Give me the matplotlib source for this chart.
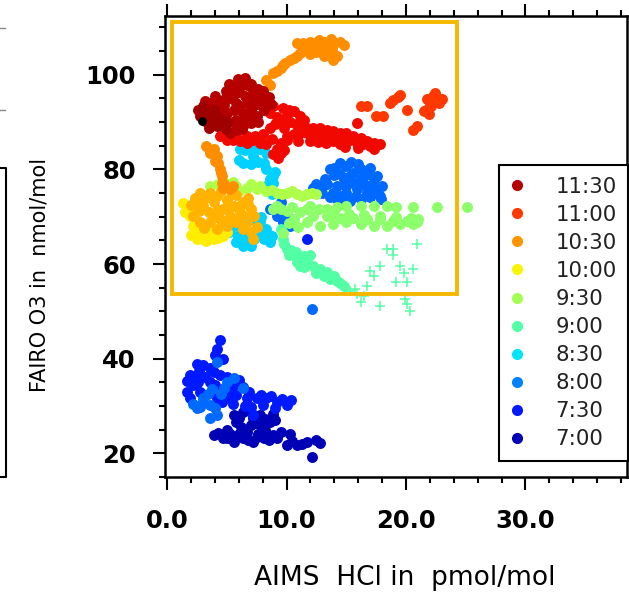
"""
AIMS HCl vs FAIRO O3 scatter, coloured by flight time.
"""

import numpy as np
import matplotlib
matplotlib.use("Agg")
import matplotlib.pyplot as plt
from matplotlib.colors import Normalize
from matplotlib.lines import Line2D
from matplotlib.patches import Rectangle


# ==========================================================
# DATA  (HCl in pmol/mol, O3 in nmol/mol)
# ==========================================================

pts_1136 = [(2.6, 92.6), (2.8, 91.2), (3.0, 93.3), (3.3, 91.2), (3.6, 89.8), (3.6, 92.0),
            (4.2, 91.2), (4.5, 90.5), (4.2, 89.1), (4.9, 88.6), (5.0, 90.0), (3.9, 92.5),
            (3.2, 90.2), (3.9, 90.0), (2.9, 92.0), (3.5, 88.8), (4.7, 89.5)]

pts_1130 = [(3.6, 94.0), (4.2, 94.4), (4.7, 94.7), (5.3, 95.1), (5.8, 96.1), (5.6, 97.5),
            (6.1, 98.6), (6.7, 97.9), (7.2, 96.8), (7.8, 95.4), (8.3, 94.0), (8.1, 92.6),
            (7.5, 91.2), (7.0, 89.8), (6.4, 89.1), (5.8, 88.4), (5.3, 87.7), (4.4, 92.6),
            (5.0, 91.9), (5.6, 92.6), (6.1, 93.3), (6.7, 94.0), (7.2, 93.3), (5.8, 90.5),
            (6.4, 91.9), (6.5, 95.5), (7.0, 95.0), (6.0, 97.0), (5.8, 94.0), (7.5, 94.0),
            (4.8, 93.5), (6.2, 90.5), (6.8, 91.5), (5.5, 90.0), (6.3, 88.5), (3.2, 94.5),
            (4.0, 95.5), (4.9, 96.5), (5.2, 98.0), (5.9, 99.0), (6.5, 99.2), (7.0, 98.0),
            (7.6, 97.0), (8.0, 96.5), (8.5, 95.2), (8.7, 93.8), (7.9, 93.5), (7.0, 92.5),
            (6.6, 90.2), (7.6, 90.0), (5.0, 95.8), (4.3, 93.5), (3.4, 93.2)]

pts_1115 = [(8.9, 93.3), (9.7, 93.0), (10.6, 92.3), (11.1, 91.2), (11.4, 89.8), (11.7, 88.8),
            (12.2, 88.8), (12.8, 88.8), (13.4, 88.4), (13.9, 88.1), (14.5, 87.7), (15.0, 87.7),
            (15.6, 87.0), (16.2, 86.7), (16.7, 86.0), (17.3, 85.6), (17.0, 84.9), (16.4, 85.3),
            (15.9, 85.6), (15.0, 86.0), (14.5, 85.3), (13.9, 86.0), (13.4, 87.0), (12.8, 87.0),
            (12.2, 87.7), (11.7, 87.7), (11.1, 87.7), (10.6, 87.4), (10.0, 87.0), (9.5, 85.6),
            (9.2, 84.2), (8.9, 83.2), (9.5, 83.5), (10.0, 86.3), (7.8, 85.6), (7.2, 86.3),
            (6.7, 85.6), (6.1, 86.0), (5.5, 86.3), (5.0, 86.3), (4.4, 87.0), (8.3, 85.3),
            (15.9, 89.8), (8.6, 92.0), (9.2, 91.0), (10.0, 91.5), (10.3, 90.0), (8.0, 87.5),
            (8.6, 88.8), (9.0, 89.5), (4.8, 87.3), (5.8, 87.0), (6.7, 87.0), (7.4, 87.0),
            (8.8, 86.5), (9.8, 88.8), (9.7, 90.3), (10.8, 89.5), (11.0, 86.0), (12.0, 86.0),
            (12.6, 85.8), (13.3, 85.6), (14.2, 86.7), (15.3, 86.2), (16.0, 84.6), (17.3, 84.3),
            (17.8, 85.3), (9.8, 84.0), (9.3, 82.5), (10.2, 92.5), (11.5, 90.5), (12.4, 87.9),
            (14.9, 84.8)]

pts_1100 = [(16.2, 93.3), (16.7, 93.3), (17.5, 91.2), (18.1, 91.2), (18.7, 94.0), (18.9, 94.7),
            (19.5, 95.8), (20.1, 92.6), (20.9, 89.1), (20.6, 88.4), (21.7, 92.6), (22.0, 94.0),
            (22.3, 95.4), (22.6, 95.1), (22.8, 94.0), (22.1, 93.3), (21.5, 92.3), (19.3, 95.2),
            (22.5, 94.6), (21.8, 94.8), (22.4, 96.2), (21.9, 91.8), (23.0, 94.8)]

pts_1030 = [(8.3, 98.9), (8.6, 97.9), (8.9, 100.4), (9.5, 101.4), (9.9, 102.5), (10.3, 103.2),
            (10.9, 103.9), (11.1, 104.6), (11.7, 104.9), (12.2, 105.6), (12.8, 106.0), (13.4, 106.3),
            (13.6, 104.9), (13.1, 103.9), (13.9, 103.2), (12.5, 106.7), (11.4, 106.7), (10.9, 106.7),
            (12.0, 107.0), (13.1, 107.0), (14.5, 107.0), (14.0, 106.8), (3.3, 84.9), (3.9, 84.2),
            (3.6, 83.5), (4.2, 82.8), (4.3, 81.4), (4.4, 80.0), (4.6, 78.6), (4.6, 77.2),
            (4.7, 76.1), (5.3, 75.8), (9.2, 100.8), (9.7, 102.0), (10.6, 103.6), (11.4, 105.3),
            (12.0, 104.3), (12.5, 104.8), (13.0, 105.3), (13.8, 105.5), (14.2, 104.0), (11.7, 106.0),
            (12.7, 107.4), (13.7, 107.5), (14.8, 106.2), (3.5, 84.2), (4.0, 81.8), (4.5, 79.3),
            (4.8, 77.0), (5.5, 76.5)]

pts_1020 = [(2.8, 75.1), (3.6, 75.1), (2.5, 73.0), (3.0, 72.3), (3.9, 73.0), (4.7, 71.6),
            (5.6, 72.3), (6.4, 73.0), (7.0, 71.6), (6.1, 70.9), (5.3, 70.2), (4.4, 69.5),
            (3.6, 68.8), (2.8, 68.8), (2.2, 70.2), (6.7, 68.8), (7.0, 66.7), (7.2, 65.3),
            (5.8, 68.8), (5.0, 68.1), (4.2, 67.4), (3.2, 74.0), (4.2, 74.3), (5.0, 73.5),
            (5.8, 74.5), (6.8, 74.0), (3.5, 71.0), (4.3, 71.5), (5.2, 71.8), (6.1, 72.3),
            (6.5, 70.0), (2.7, 71.3), (3.9, 70.3), (6.4, 67.5), (2.0, 72.5), (2.3, 74.0),
            (4.5, 75.5), (5.4, 75.0), (6.8, 72.7), (7.3, 70.2), (6.0, 69.5), (4.7, 68.6),
            (3.1, 67.7), (7.5, 67.8)]

pts_1000 = [(1.65, 71.6), (1.9, 70.2), (2.2, 68.1), (2.8, 66.7), (3.0, 65.3), (3.9, 65.3),
            (4.7, 66.0), (2.5, 65.3), (3.6, 66.7), (5.0, 66.7), (1.5, 70.9), (2.4, 67.0),
            (1.8, 72.3), (1.3, 72.8), (2.2, 72.0), (3.3, 64.8), (4.3, 65.5), (2.0, 66.2)]

pts_0930 = [(5.0, 76.8), (5.8, 76.5), (6.7, 76.1), (7.5, 75.8), (8.3, 75.4), (9.2, 75.1),
            (10.0, 75.1), (10.9, 74.7), (11.7, 74.7), (12.5, 74.7), (7.8, 76.5), (7.0, 76.8),
            (6.0, 75.5), (3.6, 76.5), (8.8, 75.6), (9.6, 74.8), (10.5, 75.4), (11.3, 74.3),
            (12.1, 75.0), (5.5, 77.3), (4.3, 76.8)]

pts_0920 = [(15.0, 72.3), (16.2, 72.3), (17.3, 72.3), (18.4, 72.3), (19.2, 72.0), (20.6, 72.0),
            (22.6, 72.0), (25.1, 72.0), (8.9, 71.6), (10.0, 71.2), (11.1, 70.9), (12.2, 70.2),
            (13.4, 70.2), (14.5, 69.8), (15.6, 69.8), (16.7, 69.5), (17.8, 69.5), (18.9, 69.1),
            (20.1, 69.1), (20.9, 68.8), (11.7, 68.8), (12.8, 68.1), (13.9, 68.4), (15.0, 68.8),
            (16.2, 68.4), (17.3, 68.1), (18.4, 68.1), (19.5, 68.4), (20.6, 68.4), (10.6, 69.5),
            (9.5, 71.6), (11.7, 71.6), (13.4, 71.6), (14.2, 72.0), (9.2, 72.3), (10.5, 72.0),
            (12.0, 72.3), (12.7, 71.6), (14.0, 70.6), (15.2, 70.5), (16.5, 70.4), (17.8, 70.2),
            (19.2, 70.0), (20.4, 69.8), (21.0, 69.6), (10.2, 68.6), (11.0, 67.8), (9.7, 66.5)]

pts_0900 = [(9.7, 65.3), (10.0, 63.2), (10.6, 61.8), (11.1, 61.1), (11.7, 60.4), (12.2, 59.6),
            (12.5, 58.2), (13.1, 57.5), (13.6, 56.8), (14.2, 56.5), (14.8, 55.4), (9.5, 67.4),
            (11.1, 59.6), (12.0, 61.8), (10.2, 62.0), (9.8, 64.3), (10.4, 63.0), (10.9, 60.5),
            (11.5, 59.4), (12.8, 59.0), (13.4, 58.3), (14.0, 57.5), (14.5, 56.0), (10.8, 62.5),
            (11.5, 61.6)]

crosses_0900 = [(15.3, 54.4), (15.9, 53.7), (16.5, 53.3), (16.7, 55.4), (17.3, 57.5), (17.8, 59.6),
                (18.4, 63.2), (18.9, 63.2), (18.9, 61.8), (19.5, 59.6), (19.8, 58.2), (19.2, 56.1),
                (20.1, 56.1), (20.6, 58.9), (20.9, 64.2), (17.0, 58.6), (16.2, 51.9), (17.8, 51.2),
                (20.1, 51.6), (15.7, 54.7), (19.9, 52.6), (20.3, 50.1)]

pts_0830 = [(6.1, 84.2), (7.0, 84.6), (7.8, 84.2), (6.4, 81.4), (7.0, 81.1), (8.1, 81.4),
            (8.3, 80.0), (8.9, 78.6), (8.9, 77.2), (8.6, 75.8), (7.8, 68.8), (8.3, 67.4),
            (8.6, 64.6), (8.1, 65.3), (7.5, 66.7), (5.8, 64.6), (6.4, 63.9), (7.0, 63.9),
            (5.6, 68.1), (7.2, 82.8), (8.3, 83.5), (6.5, 84.0), (7.4, 84.5), (8.6, 78.0),
            (8.3, 76.5), (6.2, 64.8), (8.8, 66.0), (7.9, 70.0), (6.0, 82.0), (7.6, 81.5),
            (9.0, 79.5), (8.8, 74.8), (6.6, 65.5), (7.3, 65.3), (5.9, 66.0), (8.0, 66.5),
            (5.2, 66.8), (7.2, 69.5)]

pts_0800 = [(12.5, 76.8), (13.4, 76.8), (13.6, 80.0), (14.5, 81.4), (15.0, 80.7), (15.6, 79.3),
            (16.2, 80.0), (16.7, 79.3), (17.3, 77.9), (17.5, 75.8), (17.8, 74.4), (16.7, 75.1),
            (15.9, 75.8), (15.0, 75.1), (14.5, 74.4), (13.9, 75.1), (14.8, 77.9), (15.6, 77.2),
            (16.2, 77.9), (17.0, 76.5), (15.3, 73.3), (16.2, 73.7), (14.2, 73.7), (14.5, 79.0),
            (15.3, 78.5), (14.2, 76.5), (16.5, 78.5), (13.0, 76.2), (13.2, 78.0), (14.0, 80.3),
            (15.4, 81.5), (16.0, 81.2), (17.0, 80.2), (17.6, 78.5), (18.0, 76.5), (17.9, 73.7),
            (17.0, 74.2), (15.8, 74.4), (14.9, 72.8), (13.6, 74.2), (14.0, 78.8), (15.0, 76.5),
            (16.5, 76.8), (13.0, 75.0), (12.2, 76.0), (8.6, 71.6), (9.2, 70.2), (9.7, 68.8),
            (10.3, 68.1), (10.0, 70.2), (9.5, 73.0), (4.2, 39.3), (5.0, 35.1), (3.0, 31.6),
            (3.6, 30.2), (2.5, 29.5), (3.6, 27.4), (4.2, 28.1), (3.0, 30.9), (6.4, 33.7),
            (4.5, 32.5), (3.8, 33.5), (2.8, 29.8), (3.4, 32.6), (4.8, 33.8), (5.6, 36.0),
            (2.2, 30.5), (4.0, 29.5), (12.1, 50.5)]

pts_0730 = [(4.4, 43.9), (4.2, 42.1), (4.7, 40.0), (2.5, 38.9), (3.0, 38.6), (1.9, 36.5),
            (2.2, 34.4), (1.65, 33.0), (1.9, 31.6), (2.8, 33.0), (3.6, 35.1), (3.9, 37.2),
            (5.0, 36.1), (5.6, 34.4), (6.4, 34.0), (4.2, 31.6), (5.0, 31.6), (5.8, 32.3),
            (6.7, 31.6), (7.5, 31.6), (8.3, 31.6), (9.2, 30.9), (10.0, 30.2), (7.2, 28.1),
            (11.7, 65.3), (2.4, 36.0), (3.2, 36.2), (5.5, 30.5), (8.0, 30.2), (3.6, 38.0),
            (4.0, 40.8), (2.7, 37.3), (1.7, 35.2), (2.6, 35.0), (4.4, 36.5), (6.0, 35.4),
            (6.9, 33.0), (7.9, 32.4), (8.7, 32.2), (9.6, 31.5), (10.4, 31.3), (6.5, 30.0),
            (7.0, 29.8), (9.0, 29.5), (4.6, 30.8), (5.2, 33.2), (4.0, 34.5)]

pts_0700 = [(3.9, 23.9), (4.7, 23.2), (5.6, 22.5), (6.4, 23.2), (7.2, 22.5), (8.1, 23.2),
            (8.9, 23.9), (9.5, 24.6), (7.8, 26.0), (7.0, 26.0), (5.8, 26.7), (5.6, 28.1),
            (6.4, 28.8), (7.8, 28.1), (8.6, 26.7), (10.0, 21.8), (10.9, 21.8), (11.7, 22.5),
            (12.5, 22.8), (12.1, 19.3), (6.7, 24.6), (5.0, 23.2), (7.2, 27.5), (6.2, 25.5),
            (8.2, 25.0), (4.3, 24.4), (5.3, 24.0), (6.0, 24.0), (7.6, 24.0), (8.5, 22.9),
            (9.2, 23.3), (10.5, 22.6), (11.3, 22.0), (12.8, 22.2), (6.0, 27.5), (7.0, 28.7),
            (8.2, 27.3), (9.0, 27.0), (7.5, 23.5), (5.0, 25.0), (6.8, 22.8), (10.3, 24.0),
            (8.9, 28.3)]

last_point = [(2.9, 90.2)]

# decimal hour of each group, oldest first (drawn in this order)
group_hours = [7.0, 7.5, 7.9, 8.4, 9.0, 9.35, 9.55, 10.05, 10.35, 10.55, 11.0, 11.25, 11.5, 11.6]
group_points = [pts_0700, pts_0730, pts_0800, pts_0830, pts_0900, pts_0920, pts_0930,
                pts_1000, pts_1020, pts_1030, pts_1100, pts_1115, pts_1130, pts_1136]

legend_labels = ["11:30", "11:00", "10:30", "10:00", "9:30", "9:00", "8:30", "8:00", "7:30", "7:00"]
legend_hours = [11.5, 11.0, 10.5, 10.0, 9.5, 9.0, 8.5, 8.0, 7.5, 7.0]

# box marking the region of interest (data units)
box_x0, box_x1 = 0.4, 24.3
box_y0, box_y1 = 53.7, 111.2


# ==========================================================
# PLOT
# ==========================================================

cmap = plt.get_cmap("jet")
norm = Normalize(vmin=6.75, vmax=11.75)

fig = plt.figure(figsize=(6.29, 5.96), dpi=100)
ax = fig.add_axes([165 / 629, 119 / 596, 462 / 629, 461 / 596])

for hour, pts in zip(group_hours, group_points):
    xy = np.array(pts)
    ax.scatter(xy[:, 0], xy[:, 1], s=62, color=cmap(norm(hour)), linewidths=0, zorder=3)
    if hour == 9.0:
        cx = np.array(crosses_0900)
        ax.scatter(cx[:, 0], cx[:, 1], s=45, marker="+", color=cmap(norm(hour)),
                   linewidths=1.1, zorder=3)

lp = np.array(last_point)
ax.scatter(lp[:, 0], lp[:, 1], s=40, color="black", linewidths=0, zorder=4)

ax.add_patch(Rectangle((box_x0, box_y0), box_x1 - box_x0, box_y1 - box_y0,
                       fill=False, edgecolor="#F5B800", linewidth=2.8, zorder=5))

ax.set_xlim(-0.17, 38.5)
ax.set_ylim(15.4, 112.4)

ax.set_xticks([0, 10, 20, 30])
ax.set_xticklabels(["0.0", "10.0", "20.0", "30.0"])
ax.set_xticks(np.arange(0, 39, 2), minor=True)
ax.set_yticks([20, 40, 60, 80, 100])
ax.set_yticks(np.arange(15, 113, 5), minor=True)

ax.tick_params(which="both", direction="out", width=1.5, top=True, right=False,
               labeltop=False)
ax.tick_params(which="major", length=9)
ax.tick_params(which="minor", length=4.5)
ax.tick_params(axis="x", pad=14)
ax.tick_params(axis="y", pad=12)
for lab in ax.get_xticklabels() + ax.get_yticklabels():
    lab.set_fontfamily("DejaVu Sans")
    lab.set_fontweight("bold")
    lab.set_fontsize(17.5)

for sp in ax.spines.values():
    sp.set_linewidth(1.8)

fig.text(405 / 629, 1 - 578 / 596, "AIMS  HCl in  pmol/mol", ha="center", va="center",
         fontsize=19, family="DejaVu Sans")
fig.text(40 / 629, 1 - 275 / 596, "FAIRO O3 in  nmol/mol", ha="center", va="center",
         rotation=90, fontsize=15, family="DejaVu Sans")

handles = [Line2D([], [], linestyle="none", marker="o", markersize=8,
                  markerfacecolor=cmap(norm(h)), markeredgewidth=0) for h in legend_hours]
leg = ax.legend(handles, legend_labels, loc="upper left",
                bbox_to_anchor=(499 / 629, 1 - 165 / 596), bbox_transform=fig.transFigure,
                borderaxespad=0, borderpad=0.55, handlelength=0.6, handletextpad=1.5,
                labelspacing=0.38, fancybox=False, framealpha=1,
                edgecolor="black", prop={"family": "DejaVu Sans", "size": 15.3})
leg.get_frame().set_linewidth(1.5)
for t in leg.get_texts():
    t.set_color("#222222")

# leftover edge of the neighbouring panel
fig.add_artist(Line2D([0, 6 / 629, 6 / 629, 0],
                      [1 - 168 / 596, 1 - 168 / 596, 1 - 477 / 596, 1 - 477 / 596],
                      color="black", linewidth=1.5))
for yy in [28, 110]:
    fig.add_artist(Line2D([0, 5 / 629], [1 - yy / 596, 1 - yy / 596],
                          color="#888888", linewidth=1.0))

fig.savefig("out.png", dpi=100)
